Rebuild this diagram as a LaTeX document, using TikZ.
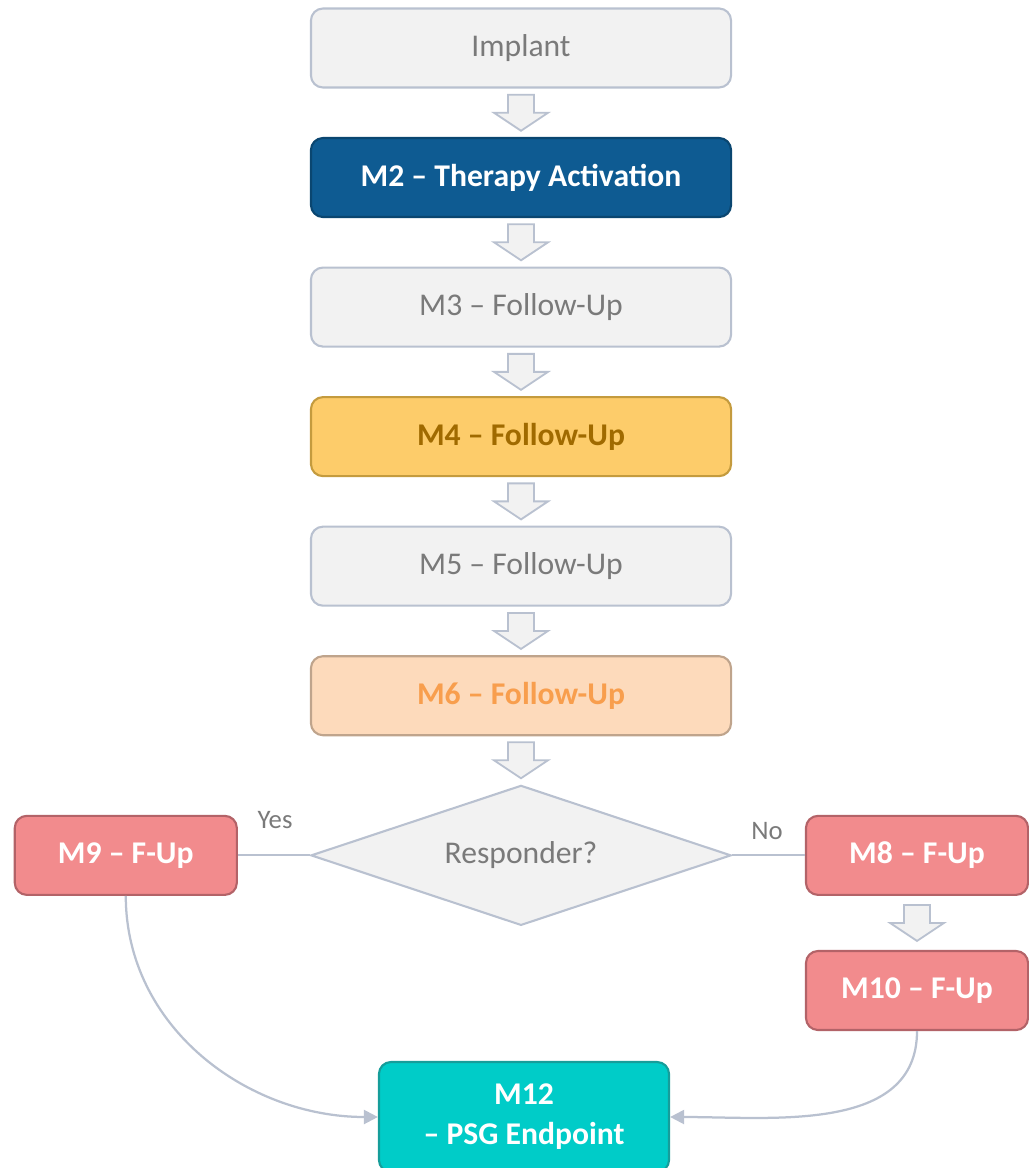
\documentclass[tikz,border=0pt]{standalone}
\usepackage{fontspec}
\setmainfont{Carlito}
\usetikzlibrary{positioning,shapes.geometric,arrows.meta,calc}

\definecolor{greyfill}{HTML}{F2F2F2}
\definecolor{greyline}{HTML}{B9C1D0}
\definecolor{greytext}{HTML}{7A7A7A}
\definecolor{bluefill}{HTML}{0E5B92}
\definecolor{blueline}{HTML}{0A4670}
\definecolor{goldfill}{HTML}{FDCC6A}
\definecolor{goldline}{HTML}{C49B3E}
\definecolor{goldtext}{HTML}{A06A00}
\definecolor{peachfill}{HTML}{FDDABB}
\definecolor{peachline}{HTML}{BFA48C}
\definecolor{peachtext}{HTML}{F89E4D}
\definecolor{redfill}{HTML}{F28B8D}
\definecolor{redline}{HTML}{B36368}
\definecolor{tealfill}{HTML}{00CCC8}
\definecolor{tealline}{HTML}{169D9A}

\tikzset{
  stage/.style={draw, rounded corners=0.3cm, line width=1.5pt, inner sep=0pt,
    minimum width=10.5cm, minimum height=1.975cm,
    font=\fontsize{22.5}{28.5}\selectfont},
  greystage/.style={stage, fill=greyfill, draw=greyline, text=greytext},
  bluestage/.style={stage, fill=bluefill, draw=blueline, text=white, font=\fontsize{22.5}{28.5}\selectfont\bfseries},
  goldstage/.style={stage, fill=goldfill, draw=goldline, text=goldtext, font=\fontsize{22.5}{28.5}\selectfont\bfseries},
  peachstage/.style={stage, fill=peachfill, draw=peachline, text=peachtext, font=\fontsize{22.5}{28.5}\selectfont\bfseries},
  redstage/.style={stage, fill=redfill, draw=redline, text=white, minimum width=5.55cm, font=\fontsize{22.5}{28.5}\selectfont\bfseries},
  endstage/.style={stage, fill=tealfill, draw=tealline, text=white, align=center, minimum width=7.25cm, minimum height=2.75cm, font=\fontsize{22.5}{28.5}\selectfont\bfseries},
  blockarrow/.style={draw=greyline, fill=greyfill, line width=1.3pt, line join=miter},
  link/.style={draw=greyline, line width=1.6pt},
  answer/.style={text=greytext, font=\fontsize{19}{22}\selectfont},
}

% hollow down arrow in the gap between two nodes
\newcommand{\flowarrow}[2]{%
  \path ($(#1.south)!0.5!(#2.north)$) coordinate (gapmid);
  \draw[blockarrow] ($(gapmid)+(-13,18)$) -- ++(26,0) -- ++(0,-18) -- ++(14,0)
    -- ++(-27,-18) -- ++(-27,18) -- ++(14,0) -- cycle;
}

\begin{document}
\begin{tikzpicture}[x=0.025cm, y=0.025cm]
  \useasboundingbox (0,0) rectangle (1028,-1168);

  \node[greystage] (implant) at (521,-48) {Implant};
  \node[bluestage, below=1.21cm of implant] (m2) {M2 – Therapy Activation};
  \node[greystage, below=1.21cm of m2] (m3) {M3 – Follow-Up};
  \node[goldstage, below=1.21cm of m3] (m4) {M4 – Follow-Up};
  \node[greystage, below=1.21cm of m4] (m5) {M5 – Follow-Up};
  \node[peachstage, below=1.21cm of m5] (m6) {M6 – Follow-Up};
  \node[diamond, draw=greyline, fill=greyfill, line width=1.5pt, text=greytext,
        aspect=3, minimum width=10.5cm, minimum height=3.5cm, inner sep=0pt,
        font=\fontsize{22.5}{28.5}\selectfont, below=1.2cm of m6] (decide) {Responder?};

  \node[redstage, left=1.8cm of decide] (m9) {M9 – F-Up};
  \node[redstage, right=1.82cm of decide] (m8) {M8 – F-Up};
  \node[redstage, below=1.35cm of m8] (m10) {M10 – F-Up};
  \node[endstage] (m12) at (524,-1117) {M12\\– PSG Endpoint};

  \node[answer] (yes) at (275,-820) {Yes};
  \node[answer] (no) at (767,-831) {No};

  \flowarrow{implant}{m2}
  \flowarrow{m2}{m3}
  \flowarrow{m3}{m4}
  \flowarrow{m4}{m5}
  \flowarrow{m5}{m6}
  \flowarrow{m6}{decide}
  \flowarrow{m8}{m10}

  \draw[link] (decide.west) -- (m9.east);
  \draw[link] (decide.east) -- (m8.west);
  \draw[link, -{Triangle[length=10pt, width=10pt]}] (m9.south) to[out=-90, in=180] (m12.west);
  \draw[link, -{Triangle[length=10pt, width=10pt]}] (m10.south) to[out=-90, in=0] (m12.east);
\end{tikzpicture}
\end{document}
